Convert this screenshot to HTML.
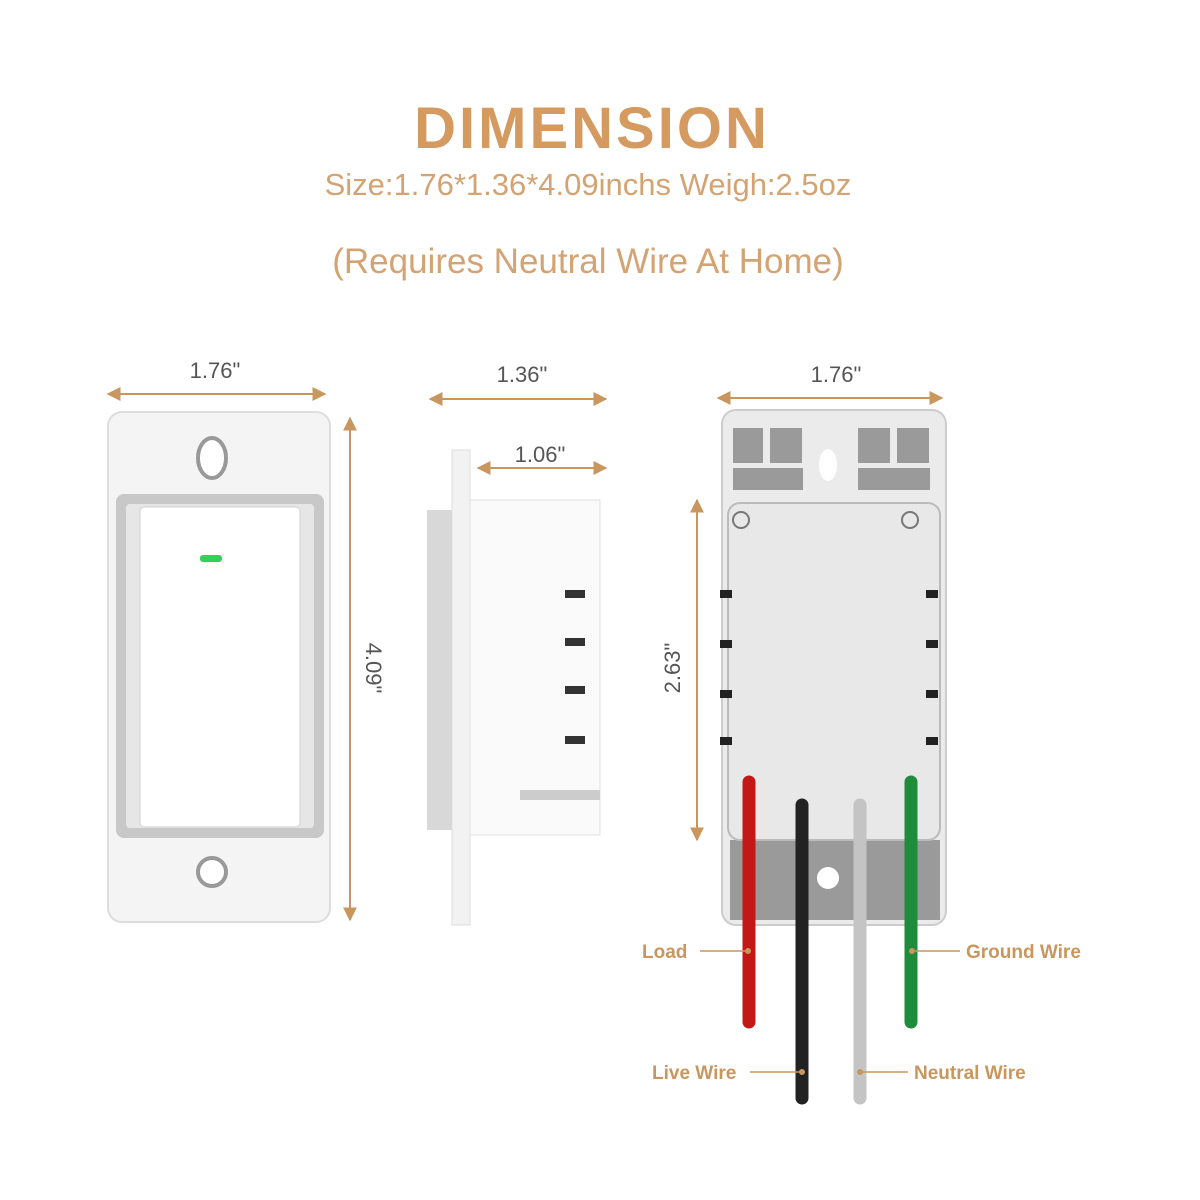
<!DOCTYPE html>
<html><head><style>
html,body{margin:0;padding:0;background:#fff;}
svg{display:block}
text{font-family:"Liberation Sans",sans-serif;}
</style></head><body>
<svg width="1200" height="1200" viewBox="0 0 1200 1200" xmlns="http://www.w3.org/2000/svg">
<defs>
<marker id="ah" viewBox="0 0 10 10" refX="9" refY="5" markerWidth="7" markerHeight="7" orient="auto-start-reverse"><path d="M0,0 L10,5 L0,10 z" fill="#c9965e"/></marker>
</defs>
<rect width="1200" height="1200" fill="#fff"/>
<text x="592" y="148" text-anchor="middle" font-size="58" font-weight="bold" fill="#d49a60" letter-spacing="3">DIMENSION</text>
<text x="588" y="195" text-anchor="middle" font-size="31" fill="#d4a373">Size:1.76*1.36*4.09inchs  Weigh:2.5oz</text>
<text x="588" y="273" text-anchor="middle" font-size="35" fill="#d4a373">(Requires Neutral Wire At Home)</text>

<g stroke="#c9965e" stroke-width="2" fill="none" marker-start="url(#ah)" marker-end="url(#ah)">
<line x1="108" y1="394" x2="325" y2="394"/>
<line x1="350" y1="418" x2="350" y2="920"/>
<line x1="430" y1="399" x2="606" y2="399"/>
<line x1="478" y1="468" x2="606" y2="468"/>
<line x1="718" y1="398" x2="942" y2="398"/>
<line x1="697" y1="500" x2="697" y2="840"/>
</g>
<g font-size="22" fill="#555" text-anchor="middle">
<text x="215" y="378">1.76"</text>
<text x="522" y="382">1.36"</text>
<text x="540" y="462">1.06"</text>
<text x="836" y="382">1.76"</text>
<text transform="translate(366,668) rotate(90)">4.09"</text>
<text transform="translate(680,668) rotate(-90)">2.63"</text>
</g>

<rect x="108" y="412" width="222" height="510" rx="14" fill="#f4f4f4" stroke="#ddd" stroke-width="2"/>
<ellipse cx="212" cy="458" rx="14" ry="20" fill="#fff" stroke="#999" stroke-width="4"/>
<ellipse cx="212" cy="872" rx="14" ry="14" fill="#fff" stroke="#999" stroke-width="4"/>
<rect x="116" y="494" width="208" height="344" rx="8" fill="#c8c8c8"/>
<rect x="126" y="504" width="188" height="324" rx="4" fill="#e6e6e6"/>
<rect x="140" y="507" width="160" height="320" rx="4" fill="#fff" stroke="#d0d0d0"/>
<rect x="200" y="555" width="22" height="7" rx="3" fill="#2fd35a"/>

<rect x="427" y="510" width="27" height="320" fill="#d8d8d8"/>
<rect x="452" y="450" width="18" height="475" fill="#f2f2f2" stroke="#ddd"/>
<rect x="470" y="500" width="130" height="335" fill="#fafafa" stroke="#e0e0e0"/>
<g fill="#333">
<rect x="565" y="590" width="20" height="8"/><rect x="565" y="638" width="20" height="8"/>
<rect x="565" y="686" width="20" height="8"/><rect x="565" y="736" width="20" height="8"/>
</g>
<rect x="520" y="790" width="80" height="10" fill="#ccc"/>

<rect x="722" y="410" width="224" height="515" rx="14" fill="#ebebeb" stroke="#ccc" stroke-width="2"/>
<g fill="#9a9a9a">
<rect x="733" y="428" width="30" height="35"/><rect x="770" y="428" width="32" height="35"/>
<rect x="733" y="468" width="70" height="22"/>
<rect x="858" y="428" width="32" height="35"/><rect x="897" y="428" width="32" height="35"/>
<rect x="858" y="468" width="72" height="22"/>
<rect x="730" y="840" width="210" height="80"/>
</g>
<ellipse cx="828" cy="465" rx="9" ry="16" fill="#fff"/>
<circle cx="828" cy="878" r="11" fill="#fff"/>
<rect x="728" y="503" width="212" height="337" rx="12" fill="#e8e8e8" stroke="#bbb" stroke-width="2"/>
<g fill="#222">
<rect x="720" y="590" width="12" height="8"/><rect x="720" y="640" width="12" height="8"/><rect x="720" y="690" width="12" height="8"/><rect x="720" y="737" width="12" height="8"/>
<rect x="926" y="590" width="12" height="8"/><rect x="926" y="640" width="12" height="8"/><rect x="926" y="690" width="12" height="8"/><rect x="926" y="737" width="12" height="8"/>
</g>
<circle cx="741" cy="520" r="8" fill="none" stroke="#777" stroke-width="2"/>
<circle cx="910" cy="520" r="8" fill="none" stroke="#777" stroke-width="2"/>
<g stroke-linecap="round" stroke-width="13" fill="none">
<line x1="749" y1="782" x2="749" y2="1022" stroke="#c31818"/>
<line x1="802" y1="805" x2="802" y2="1098" stroke="#222"/>
<line x1="860" y1="805" x2="860" y2="1098" stroke="#c4c4c4"/>
<line x1="911" y1="782" x2="911" y2="1022" stroke="#1e8c3a"/>
</g>

<g stroke="#c9965e" stroke-width="1.5">
<line x1="700" y1="951" x2="748" y2="951"/>
<line x1="915" y1="951" x2="960" y2="951"/>
<line x1="750" y1="1072" x2="801" y2="1072"/>
<line x1="861" y1="1072" x2="908" y2="1072"/>
</g>
<g fill="#c9965e"><circle cx="748" cy="951" r="3"/><circle cx="912" cy="951" r="3"/><circle cx="802" cy="1072" r="3"/><circle cx="860" cy="1072" r="3"/></g>
<g font-size="19" fill="#c9965e" font-weight="bold">
<text x="642" y="958">Load</text>
<text x="966" y="958">Ground Wire</text>
<text x="652" y="1079">Live Wire</text>
<text x="914" y="1079">Neutral Wire</text>
</g>
</svg>
</body></html>
